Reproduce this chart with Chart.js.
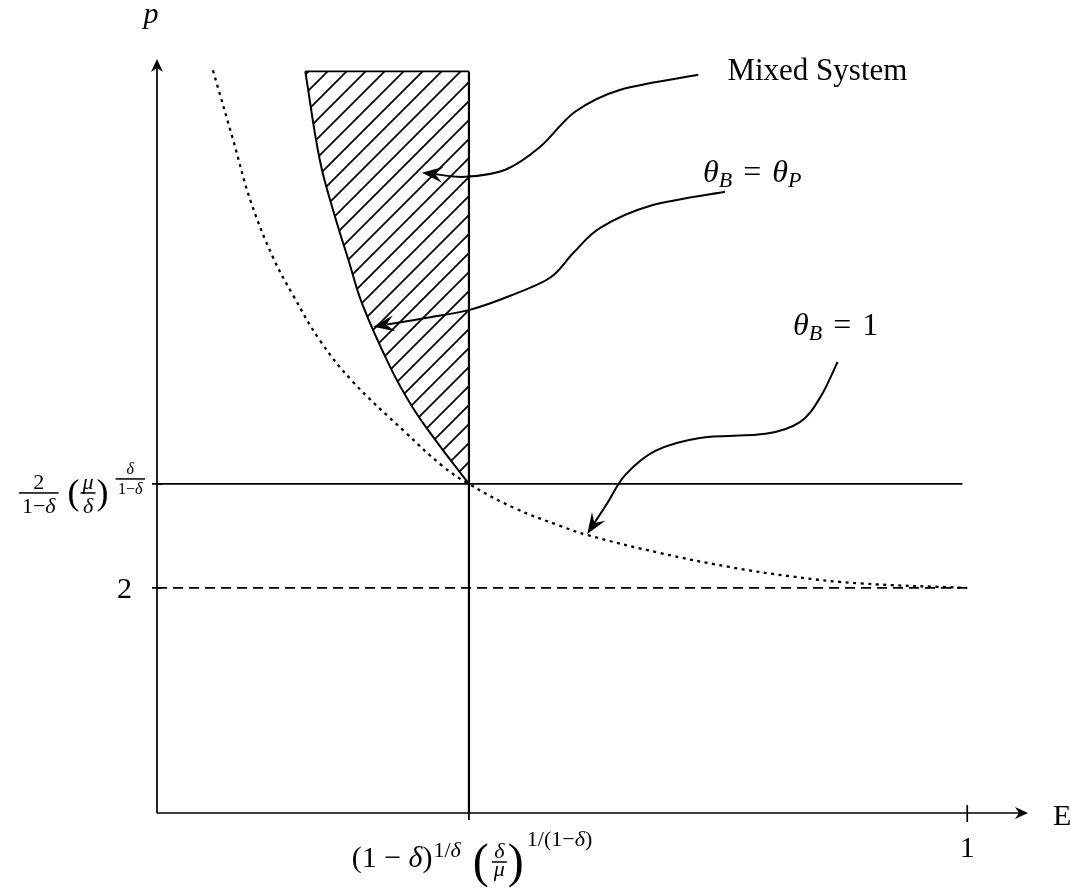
<!DOCTYPE html>
<html>
<head>
<meta charset="utf-8">
<script src="https://cdn.jsdelivr.net/npm/chart.js@4/dist/chart.umd.min.js"></script>
<style>
  html, body { margin: 0; padding: 0; background: #fff; }
  canvas { display: block; }
</style>
</head>
<body>
<canvas id="chart" width="1071" height="888"></canvas>
<script>
// key values on the axes
const eStar = 0.385;      // (1-δ)^{1/δ} (δ/μ)^{1/(1-δ)}
const pStar = 2.924;      // 2/(1-δ) (μ/δ)^{δ/(1-δ)}
const pFloor = 2;
const pTop = 6.59;
const eOne = 1;
const pStarLineEnd = 0.994;

// θ_B = θ_P boundary (left side of the mixed-system region)
const mixedE = [0.183, 0.201, 0.218, 0.236, 0.254, 0.288, 0.315, 0.343, 0.385];
const mixedP = [6.59, 5.80, 5.34, 4.92, 4.51, 3.96, 3.61, 3.32, 2.924];

// θ_B = 1 curve (dotted)
const thetaOneE = [0.069, 0.094, 0.115, 0.143, 0.168, 0.201, 0.242, 0.304, 0.353, 0.385, 0.441, 0.498, 0.531, 0.621, 0.704, 0.785, 0.868, 1.0];
const thetaOneP = [6.60, 5.98, 5.45, 4.94, 4.60, 4.20, 3.83, 3.40, 3.08, 2.924, 2.71, 2.55, 2.47, 2.31, 2.19, 2.10, 2.04, 2.0];

const xTicks = [eStar, eOne];
const yTicks = [pFloor, pStar];

const pts = (xs, ys) => xs.map((v, i) => ({ x: v, y: ys[i] }));

// annotation arrows, in axis units (tail first, tip last)
const mixedArrow = pts(
  [0.668, 0.572, 0.516, 0.473, 0.430, 0.380, 0.327],
  [6.560, 6.427, 6.231, 5.920, 5.716, 5.653, 5.689]);
const thetaPArrow = pts(
  [0.701, 0.609, 0.547, 0.514, 0.485, 0.436, 0.386, 0.333, 0.267],
  [5.520, 5.396, 5.200, 4.978, 4.756, 4.596, 4.471, 4.400, 4.320]);
const thetaOneArrow = pts(
  [0.840, 0.819, 0.794, 0.751, 0.670, 0.615, 0.578, 0.556, 0.531],
  [4.009, 3.698, 3.476, 3.369, 3.333, 3.218, 3.004, 2.756, 2.480]);

const SERIF = '"Liberation Serif", "DejaVu Serif", serif';
const M = 30, S = 22, SS = 16;

const pStarLabel = [
  { frac: true, pad: 6, bar: -7, nGap: 4, dGap: 20, num: [{ t: '2', s: S }], den: [{ t: '1−', s: S }, { t: 'δ', s: S, i: true }] },
  { t: '(', s: 36, dy: 4, dx: 9 },
  { frac: true, pad: 4, bar: -7, nGap: 4, dGap: 20, dx: 1, num: [{ t: 'μ', s: S, i: true }], den: [{ t: 'δ', s: S, i: true }] },
  { t: ')', s: 36, dy: 4, dx: 1 },
  { frac: true, pad: 5, bar: -21, nGap: 5, dGap: 15, dx: 7, num: [{ t: 'δ', s: SS, i: true }], den: [{ t: '1−', s: SS }, { t: 'δ', s: SS, i: true }] }
];
const eStarLabel = [
  { t: '(1 − ', s: M }, { t: 'δ', s: M, i: true }, { t: ')', s: M },
  { t: '1/', s: S, dy: -10, dx: 1 }, { t: 'δ', s: S, i: true, dy: -10 },
  { t: '(', s: 48, dy: 10, dx: 12 },
  { frac: true, pad: 4, bar: -5, nGap: 4, dGap: 14, dx: 3, num: [{ t: 'δ', s: S, i: true }], den: [{ t: 'μ', s: S, i: true }] },
  { t: ')', s: 48, dy: 10, dx: 1 },
  { t: '1/(1−', s: S, dy: -21, dx: 3 }, { t: 'δ', s: S, i: true, dy: -21 }, { t: ')', s: S, dy: -21 }
];
const thetaPLabel = [
  { t: 'θ', s: 32, i: true }, { t: 'B', s: S, i: true, dy: 5 },
  { t: '=', s: 32, dx: 11 }, { t: 'θ', s: 32, i: true, dx: 11 }, { t: 'P', s: S, i: true, dy: 5 }
];
const thetaOneLabel = [
  { t: 'θ', s: 32, i: true }, { t: 'B', s: S, i: true, dy: 5 },
  { t: '=', s: 32, dx: 11 }, { t: '1', s: 32, dx: 11 }
];

function font(size, italic) {
  return (italic ? 'italic ' : '') + size + 'px ' + SERIF;
}

// lays out a run of math pieces from x along baseline y; returns its width
function mathRun(ctx, pieces, x, y, draw) {
  let cx = x;
  for (const p of pieces) {
    cx += p.dx || 0;
    if (p.frac) {
      const wn = mathRun(ctx, p.num, 0, 0, false);
      const wd = mathRun(ctx, p.den, 0, 0, false);
      const w = Math.max(wn, wd) + (p.pad || 3);
      if (draw) {
        const by = y + p.bar;
        mathRun(ctx, p.num, cx + (w - wn) / 2, by - p.nGap, true);
        mathRun(ctx, p.den, cx + (w - wd) / 2, by + p.dGap, true);
        ctx.fillRect(cx, by - 0.75, w, 1.5);
      }
      cx += w;
    } else {
      ctx.font = font(p.s, p.i);
      if (draw) ctx.fillText(p.t, cx, y + (p.dy || 0));
      cx += ctx.measureText(p.t).width;
    }
  }
  return cx - x;
}

function arrowHead(ctx, tip, from, len, half, notch) {
  const a = Math.atan2(tip.y - from.y, tip.x - from.x);
  ctx.save();
  ctx.translate(tip.x, tip.y);
  ctx.rotate(a);
  ctx.beginPath();
  ctx.moveTo(0, 0);
  ctx.lineTo(-len, -half);
  ctx.lineTo(-notch, 0);
  ctx.lineTo(-len, half);
  ctx.closePath();
  ctx.fill();
  ctx.restore();
}

// smooth curve through the points (Catmull-Rom as cubic Béziers)
function smoothPath(ctx, p) {
  ctx.moveTo(p[0].x, p[0].y);
  for (let i = 0; i < p.length - 1; i++) {
    const p0 = p[i - 1] || p[i], p1 = p[i], p2 = p[i + 1], p3 = p[i + 2] || p2;
    ctx.bezierCurveTo(p1.x + (p2.x - p0.x) / 6, p1.y + (p2.y - p0.y) / 6,
                      p2.x - (p3.x - p1.x) / 6, p2.y - (p3.y - p1.y) / 6, p2.x, p2.y);
  }
}

const figurePlugin = {
  id: 'figure',
  afterDatasetsDraw(chart) {
    const { ctx, chartArea: a, scales: { x, y } } = chart;
    const X = v => x.getPixelForValue(v);
    const Y = v => y.getPixelForValue(v);
    ctx.save();
    ctx.fillStyle = '#000';
    ctx.strokeStyle = '#000';
    ctx.textBaseline = 'alphabetic';
    ctx.textAlign = 'left';

    // axes with arrow tips
    ctx.lineWidth = 1.7;
    ctx.beginPath();
    ctx.moveTo(a.left, a.bottom); ctx.lineTo(a.right - 6, a.bottom);
    ctx.moveTo(a.left, a.bottom); ctx.lineTo(a.left, a.top + 6);
    ctx.stroke();
    arrowHead(ctx, { x: a.right, y: a.bottom }, { x: a.left, y: a.bottom }, 13, 6, 9);
    arrowHead(ctx, { x: a.left, y: a.top }, { x: a.left, y: a.bottom }, 13, 6, 9);

    // tick marks
    ctx.beginPath();
    ctx.moveTo(X(eOne), a.bottom - 8); ctx.lineTo(X(eOne), a.bottom + 9);
    ctx.moveTo(X(eStar), a.bottom); ctx.lineTo(X(eStar), a.bottom + 7);
    yTicks.forEach(v => { ctx.moveTo(a.left - 5, Y(v)); ctx.lineTo(a.left + 5, Y(v)); });
    ctx.stroke();

    // axis titles
    ctx.font = font(M, true);
    ctx.textAlign = 'center';
    ctx.fillText('p', a.left - 6, a.top - 36);
    ctx.font = font(M, false);
    ctx.textAlign = 'left';
    ctx.fillText('E', a.right + 25, a.bottom + 12);

    // tick labels
    ctx.font = font(M, false);
    ctx.textAlign = 'center';
    ctx.fillText('1', X(eOne), a.bottom + 44);
    ctx.textAlign = 'right';
    ctx.fillText('2', a.left - 25, Y(pFloor) + 10);
    ctx.textAlign = 'left';
    const wY = mathRun(ctx, pStarLabel, 0, 0, false);
    mathRun(ctx, pStarLabel, a.left - 12 - wY, Y(pStar) + 16, true);
    const wX = mathRun(ctx, eStarLabel, 0, 0, false);
    mathRun(ctx, eStarLabel, X(eStar) + 3 - wX / 2, a.bottom + 54, true);

    // annotation texts
    ctx.font = font(31, false);
    ctx.fillText('Mixed System', X(0.704), Y(6.516));
    mathRun(ctx, thetaPLabel, X(0.674), Y(5.609), true);
    mathRun(ctx, thetaOneLabel, X(0.785), Y(4.249), true);

    // annotation arrows
    ctx.lineWidth = 2;
    [mixedArrow, thetaPArrow, thetaOneArrow].forEach(path => {
      const p = path.map(q => ({ x: X(q.x), y: Y(q.y) }));
      const n = p.length;
      const end = { x: p[n - 1].x - (p[n - 1].x - p[n - 2].x) * 0.25, y: p[n - 1].y - (p[n - 1].y - p[n - 2].y) * 0.25 };
      ctx.beginPath();
      smoothPath(ctx, p.slice(0, -1).concat([end]));
      ctx.stroke();
      arrowHead(ctx, p[n - 1], p[n - 2], 21, 8, 13);
    });
    ctx.restore();
  }
};

function makeHatch(ctx, step, width) {
  const c = document.createElement('canvas');
  c.width = step; c.height = step;
  const g = c.getContext('2d');
  g.strokeStyle = '#000';
  g.lineWidth = width;
  g.beginPath();
  g.moveTo(-2, step + 2); g.lineTo(step + 2, -2);
  g.moveTo(-2, 2); g.lineTo(2, -2);
  g.moveTo(step - 2, step + 2); g.lineTo(step + 2, step - 2);
  g.stroke();
  return ctx.createPattern(c, 'repeat');
}

const ctx = document.getElementById('chart').getContext('2d');
const hatch = makeHatch(ctx, 19, 1.7);

const line = (data, extra) => Object.assign({
  data: data, showLine: true, borderColor: '#000', borderWidth: 1.7,
  pointRadius: 0, fill: false
}, extra);

new Chart(ctx, {
  type: 'scatter',
  data: {
    datasets: [
      line(pts(mixedE, mixedP), { tension: 0.4, fill: 1, backgroundColor: hatch, borderWidth: 2 }),
      line([{ x: mixedE[0], y: pTop }, { x: eStar, y: pTop }]),
      line([{ x: eStar, y: 0 }, { x: eStar, y: pTop }], { borderWidth: 2.2 }),
      line([{ x: 0, y: pStar }, { x: pStarLineEnd, y: pStar }]),
      line([{ x: 0, y: pFloor }, { x: eOne, y: pFloor }], { borderDash: [10, 6] }),
      line(pts(thetaOneE, thetaOneP), { tension: 0.4, borderDash: [3, 4.5], borderWidth: 2.3 })
    ]
  },
  options: {
    responsive: false,
    animation: false,
    events: [],
    layout: { padding: { left: 157, right: 43, top: 59, bottom: 75 } },
    scales: {
      x: { type: 'linear', min: 0, max: 1.075, display: false },
      y: { type: 'linear', min: 0, max: 6.7, display: false }
    },
    plugins: {
      legend: { display: false },
      tooltip: { enabled: false }
    }
  },
  plugins: [figurePlugin]
});
</script>
</body>
</html>
